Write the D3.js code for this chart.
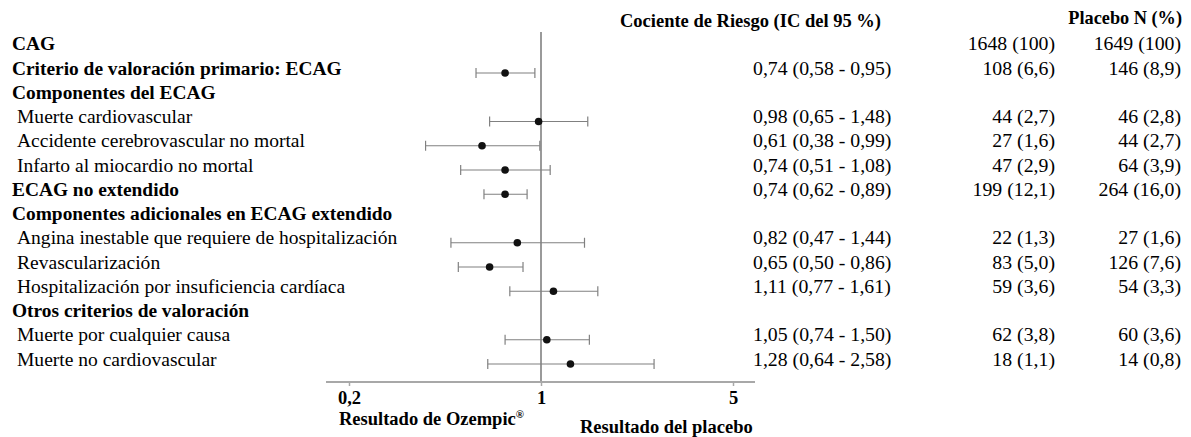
<!DOCTYPE html>
<html>
<head>
<meta charset="utf-8">
<script src="https://cdn.jsdelivr.net/npm/d3@7"></script>
</head>
<body style="margin:0; background:#fff">
<div id="chart"></div>
<script>
// rows of the table, top to bottom
var labels = [
  "CAG",
  "Criterio de valoración primario: ECAG",
  "Componentes del ECAG",
  "Muerte cardiovascular",
  "Accidente cerebrovascular no mortal",
  "Infarto al miocardio no mortal",
  "ECAG no extendido",
  "Componentes adicionales en ECAG extendido",
  "Angina inestable que requiere de hospitalización",
  "Revascularización",
  "Hospitalización por insuficiencia cardíaca",
  "Otros criterios de valoración",
  "Muerte por cualquier causa",
  "Muerte no cardiovascular"
];
var isHeader = [true, true, true, false, false, false, true, true, false, false, false, true, false, false];
var hr   = [null, 0.74, null, 0.98, 0.61, 0.74, 0.74, null, 0.82, 0.65, 1.11, null, 1.05, 1.28];
var lo   = [null, 0.58, null, 0.65, 0.38, 0.51, 0.62, null, 0.47, 0.50, 0.77, null, 0.74, 0.64];
var hi   = [null, 0.95, null, 1.48, 0.99, 1.08, 0.89, null, 1.44, 0.86, 1.61, null, 1.50, 2.58];
var ozempic = ["1648 (100)", "108 (6,6)", "", "44 (2,7)", "27 (1,6)", "47 (2,9)", "199 (12,1)", "", "22 (1,3)", "83 (5,0)", "59 (3,6)", "", "62 (3,8)", "18 (1,1)"];
var placebo = ["1649 (100)", "146 (8,9)", "", "46 (2,8)", "44 (2,7)", "64 (3,9)", "264 (16,0)", "", "27 (1,6)", "126 (7,6)", "54 (3,3)", "", "60 (3,6)", "14 (0,8)"];
var ticks = [0.2, 1, 5];

var FONT = "Liberation Serif";
var width = 1191, height = 437;
var svg = d3.select("#chart").append("svg")
    .attr("width", width)
    .attr("height", height)
    .attr("font-family", FONT);

var fmt = function (v) { return v.toFixed(2).replace(".", ","); };

var x = d3.scaleLog().domain([0.2, 5]).range([349, 733]);
var y = d3.scaleLinear().domain([0, labels.length - 1]).range([48.75, 364]);
var axisY = 382;

function txt(sel, size, bold) {
    return sel.attr("font-family", FONT)
        .attr("font-size", size)
        .attr("font-weight", bold ? "bold" : "normal")
        .attr("fill", "#000");
}

// column headers
txt(svg.append("text").attr("x", 620).attr("y", 27), 18.5, true)
    .text("Cociente de Riesgo (IC del 95 %)");
txt(svg.append("text").attr("x", 1182).attr("y", 24).attr("text-anchor", "end"), 18.3, true)
    .text("Placebo N (%)");

// reference line at 1
svg.append("line")
    .attr("x1", x(1)).attr("x2", x(1))
    .attr("y1", 32).attr("y2", axisY)
    .attr("stroke", "#9a9a9a").attr("stroke-width", 2);

// axis
var axis = d3.axisBottom(x).tickValues(ticks).tickSize(4)
    .tickFormat(function (d) { return String(d).replace(".", ","); });
var gAxis = svg.append("g").attr("transform", "translate(0," + axisY + ")").call(axis)
    .attr("font-family", FONT);
gAxis.select(".domain").remove();
gAxis.insert("line", ":first-child")
    .attr("x1", 326).attr("x2", 755)
    .attr("stroke", "#a8a8a8").attr("stroke-width", 2);
gAxis.selectAll(".tick line").attr("stroke", "#a8a8a8").attr("stroke-width", 1.5);
txt(gAxis.selectAll(".tick text"), 18.5, true)
    .attr("y", 22).attr("dy", null);

var oz = txt(svg.append("text").attr("x", 339).attr("y", 425), 18.5, true);
oz.append("tspan").text("Resultado de Ozempic");
oz.append("tspan").attr("dy", -7).attr("font-size", 11).text("®");
txt(svg.append("text").attr("x", 580).attr("y", 432.5), 18.5, true)
    .text("Resultado del placebo");

var rows = d3.range(labels.length);

// labels
txt(svg.append("g").selectAll("text")
    .data(rows).enter().append("text")
    .attr("x", function (i) { return isHeader[i] ? 12 : 17; })
    .attr("y", function (i) { return y(i) + 1.5; }), 19.5, false)
    .attr("font-weight", function (i) { return isHeader[i] ? "bold" : "normal"; })
    .attr("font-size", function (i) { return isHeader[i] ? 19.4 : 19.55; })
    .text(function (i) { return labels[i]; });

// error bars
var est = rows.filter(function (i) { return hr[i] !== null; });
var bars = svg.append("g").selectAll("g")
    .data(est).enter().append("g")
    .attr("stroke", "#808080").attr("stroke-width", 1.2);
bars.append("line")
    .attr("x1", function (i) { return x(lo[i]); })
    .attr("x2", function (i) { return x(hi[i]); })
    .attr("y1", function (i) { return y(i); })
    .attr("y2", function (i) { return y(i); });
bars.append("line")
    .attr("x1", function (i) { return x(lo[i]); })
    .attr("x2", function (i) { return x(lo[i]); })
    .attr("y1", function (i) { return y(i) - 5; })
    .attr("y2", function (i) { return y(i) + 5; });
bars.append("line")
    .attr("x1", function (i) { return x(hi[i]); })
    .attr("x2", function (i) { return x(hi[i]); })
    .attr("y1", function (i) { return y(i) - 5; })
    .attr("y2", function (i) { return y(i) + 5; });
svg.append("g").selectAll("circle")
    .data(est).enter().append("circle")
    .attr("cx", function (i) { return x(hr[i]); })
    .attr("cy", function (i) { return y(i); })
    .attr("r", 3.8)
    .attr("fill", "#111");

// numeric columns
txt(svg.append("g").selectAll("text")
    .data(est).enter().append("text")
    .attr("x", 753)
    .attr("y", function (i) { return y(i) + 1.5; }), 19.8, false)
    .text(function (i) { return fmt(hr[i]) + " (" + fmt(lo[i]) + " - " + fmt(hi[i]) + ")"; });
txt(svg.append("g").selectAll("text")
    .data(rows.filter(function (i) { return ozempic[i] !== ""; })).enter().append("text")
    .attr("x", 1055).attr("text-anchor", "end")
    .attr("y", function (i) { return y(i) + 1.5; }), 19.8, false)
    .text(function (i) { return ozempic[i]; });
txt(svg.append("g").selectAll("text")
    .data(rows.filter(function (i) { return placebo[i] !== ""; })).enter().append("text")
    .attr("x", 1181).attr("text-anchor", "end")
    .attr("y", function (i) { return y(i) + 1.5; }), 19.8, false)
    .text(function (i) { return placebo[i]; });
</script>
</body>
</html>
